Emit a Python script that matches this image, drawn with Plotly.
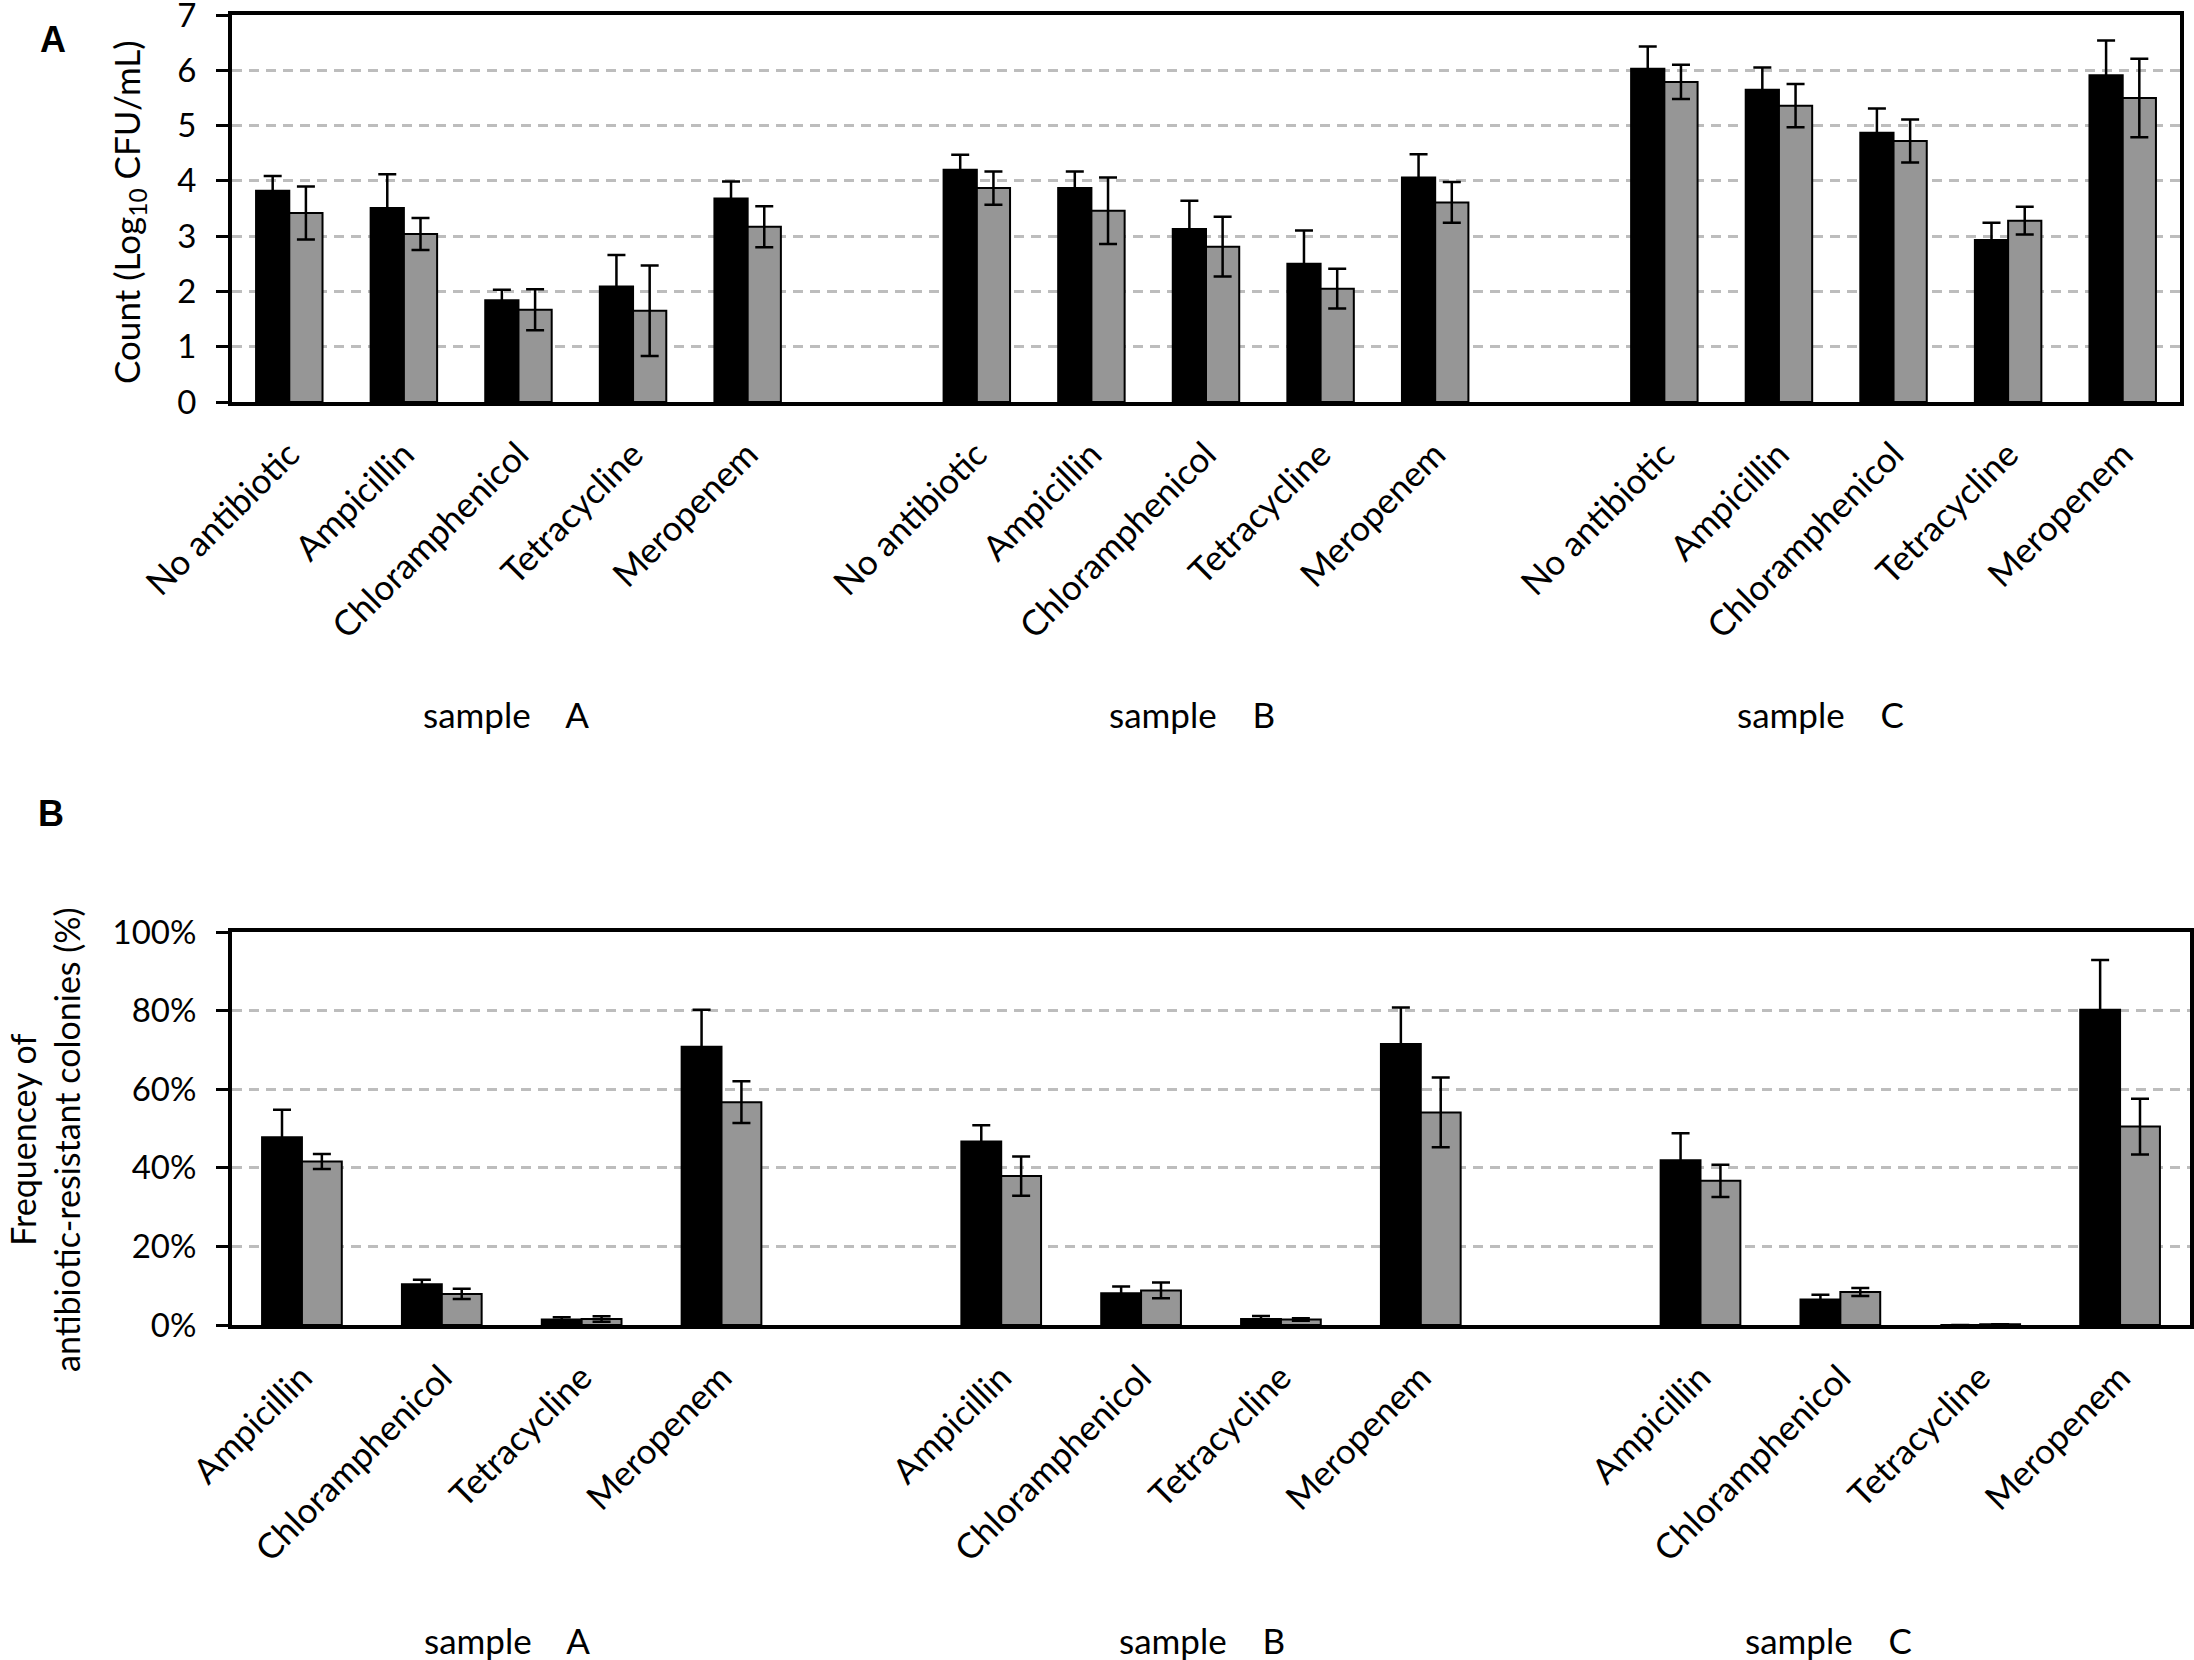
import plotly.graph_objects as go

# ---------------- data ----------------
antibiotics_a = ["No antibiotic", "Ampicillin", "Chloramphenicol", "Tetracycline", "Meropenem"]
antibiotics_b = ["Ampicillin", "Chloramphenicol", "Tetracycline", "Meropenem"]
samples = ["A", "B", "C"]

# Panel A: count (log10 CFU/mL), 3 samples x 5 conditions
count_black = [3.82, 3.51, 1.84, 2.09, 3.68,
               4.20, 3.87, 3.13, 2.50, 4.06,
               6.03, 5.65, 4.87, 2.93, 5.91]
count_black_err = [0.27, 0.61, 0.19, 0.57, 0.31,
                   0.27, 0.30, 0.51, 0.60, 0.42,
                   0.40, 0.40, 0.44, 0.31, 0.63]
count_gray = [3.42, 3.04, 1.67, 1.65, 3.17,
              3.87, 3.46, 2.81, 2.05, 3.61,
              5.79, 5.36, 4.72, 3.28, 5.50]
count_gray_err = [0.48, 0.29, 0.37, 0.82, 0.37,
                  0.30, 0.60, 0.54, 0.36, 0.37,
                  0.31, 0.39, 0.39, 0.25, 0.71]

# Panel B: frequency of antibiotic-resistant colonies (%), 3 samples x 4 antibiotics
freq_black = [47.8, 10.4, 1.4, 70.8,
              46.7, 8.1, 1.5, 71.5,
              41.9, 6.5, 0.0, 80.2]
freq_black_err = [7.0, 1.1, 0.6, 9.4,
                  4.1, 1.7, 0.8, 9.3,
                  6.9, 1.2, 0.0, 12.7]
freq_gray = [41.6, 7.9, 1.5, 56.7,
             37.9, 8.8, 1.4, 54.1,
             36.7, 8.4, 0.2, 50.5]
freq_gray_err = [1.9, 1.3, 0.7, 5.3,
                 5.0, 2.0, 0.3, 8.9,
                 4.1, 1.0, 0.0, 7.1]

count_ticks = [0, 1, 2, 3, 4, 5, 6, 7]
freq_ticks = [0, 20, 40, 60, 80, 100]
freq_ticktext = [f"{v}%" for v in freq_ticks]

# ---------------- build ----------------
W, H = 2194, 1660
FONT = "Lato"
BLACK = "#000000"
GRAY = "#969696"

# slot positions: one empty slot between sample groups
na, nb = len(antibiotics_a), len(antibiotics_b)
pos_a = [g * (na + 1) + i for g in range(len(samples)) for i in range(na)]
pos_b = [g * (nb + 1) + i for g in range(len(samples)) for i in range(nb)]
labels_a = antibiotics_a * len(samples)
labels_b = antibiotics_b * len(samples)

def bar(x, y, err, color, xa, ya, w, off):
    return go.Bar(
        x=x, y=y, xaxis=xa, yaxis=ya, width=w, offset=off,
        marker=dict(color=color, line=dict(color="black", width=2)),
        error_y=dict(type="data", array=err, visible=True, color="black",
                     thickness=2.5, width=9),
        showlegend=False,
    )

bw_a, bw_b = 0.29, 0.285
fig = go.Figure()
fig.add_trace(bar(pos_a, count_black, count_black_err, BLACK, "x", "y", bw_a, -bw_a))
fig.add_trace(bar(pos_a, count_gray, count_gray_err, GRAY, "x", "y", bw_a, 0))
fig.add_trace(bar(pos_b, freq_black, freq_black_err, BLACK, "x2", "y2", bw_b, -bw_b))
fig.add_trace(bar(pos_b, freq_gray, freq_gray_err, GRAY, "x2", "y2", bw_b, 0))

def px_x(p):
    return p / W

def px_y(p):
    return 1 - p / H

frame = dict(showline=True, mirror=True, linecolor="black", linewidth=4,
             zeroline=False, automargin=False, ticklabeloverflow="allow")
grid = dict(showgrid=True, gridcolor="#bdbdbd", gridwidth=2.5, griddash="10px,7px")
yticks = dict(ticks="outside", ticklen=12, tickwidth=3, tickcolor="black",
              tickfont=dict(family=FONT, size=33), ticklabelstandoff=13)
xticks = dict(tickangle=-45, ticks="", showgrid=False,
              tickfont=dict(family=FONT, size=35), ticklabelstandoff=14)

fig.update_layout(
    template="none",
    width=W, height=H, autosize=False,
    margin=dict(l=0, r=0, t=0, b=0, pad=0, autoexpand=False),
    paper_bgcolor="white", plot_bgcolor="white",
    font=dict(family=FONT, color="black"),
    barmode="overlay",
    xaxis=dict(domain=[px_x(232), px_x(2180)], anchor="y",
               range=[-0.5, pos_a[-1] + 0.5],
               tickmode="array", tickvals=pos_a, ticktext=labels_a,
               **xticks, **frame),
    yaxis=dict(domain=[px_y(402), px_y(15)], anchor="x",
               range=[0, 7], tickmode="array", tickvals=count_ticks,
               **yticks, **grid, **frame),
    xaxis2=dict(domain=[px_x(232), px_x(2190)], anchor="y2",
                range=[-0.5, pos_b[-1] + 0.5],
                tickmode="array", tickvals=pos_b, ticktext=labels_b,
                **xticks, **frame),
    yaxis2=dict(domain=[px_y(1325), px_y(932)], anchor="x2",
                range=[0, 100], tickmode="array", tickvals=freq_ticks,
                ticktext=freq_ticktext,
                **yticks, **grid, **frame),
)

def note(text, x, y, size, family=FONT, angle=0):
    return dict(text=text, x=px_x(x), y=px_y(y), xref="paper", yref="paper",
                xanchor="center", yanchor="middle", textangle=angle,
                showarrow=False, font=dict(family=family, size=size, color="black"))

ann = []
ann.append(note("<b>A</b>", 53, 39, 36, "Liberation Sans"))
ann.append(note("<b>B</b>", 51, 814, 36, "Liberation Sans"))
ann.append(note("Count (Log<sub>10</sub> CFU/mL)", 129, 212, 35, angle=-90))
ann.append(note("Frequencey of<br>antibiotic-resistant colonies (%)", 44, 1140, 34, angle=-90))
sp = "\u00a0" * 4
for s, xa, xb in zip(samples, [506, 1192, 1820], [507, 1202, 1829]):
    ann.append(note("sample" + sp + s, xa, 714, 35))
    ann.append(note("sample" + sp + s, xb, 1640, 35))
fig.update_layout(annotations=ann)

fig.write_html("out.html", config={"displayModeBar": False},
               post_script="document.body.style.margin='0px';")
